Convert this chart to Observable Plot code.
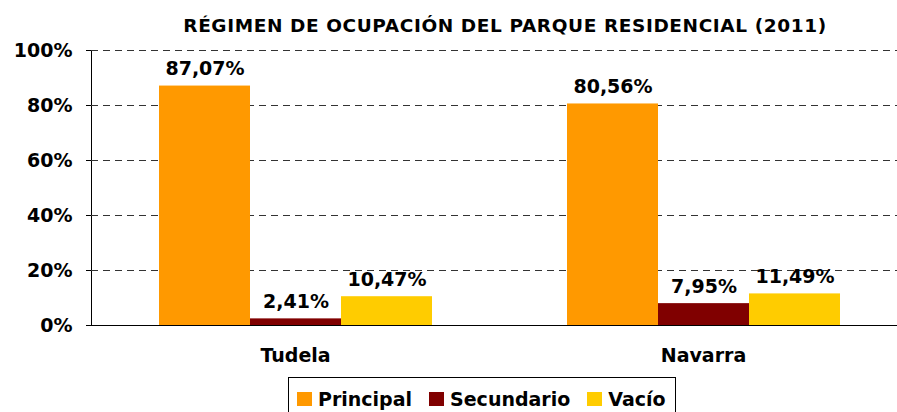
<!DOCTYPE html>
<html>
<head>
<meta charset="utf-8">
<script src="https://cdn.jsdelivr.net/npm/d3@7"></script>
<script src="https://cdn.jsdelivr.net/npm/@observablehq/plot@0.6"></script>
<style>
  html, body { margin: 0; padding: 0; background: #fff; overflow: hidden; width: 897px; height: 412px; }
  body { position: relative; font-family: "DejaVu Sans", sans-serif; font-weight: bold; color: #000; }
  #title { position: absolute; left: 0; top: 15px; width: 1010px; text-align: center; font-size: 18.5px; letter-spacing: 0.6px; white-space: nowrap; }
  #chart { position: absolute; left: 0; top: 40px; }
  #legend { position: absolute; left: 288px; top: 377px; width: 388px; height: 44px; box-sizing: border-box; border: 1px solid #000; display: flex; align-items: flex-start; padding: 10px 0 0 8px; font-size: 19px; }
  .item { display: flex; align-items: center; margin-right: 17px; }
  .sw { width: 15px; height: 14px; margin-right: 6px; }
</style>
</head>
<body>
<div id="title"></div>
<div id="chart"></div>
<div id="legend"></div>
<script>
const titleText = "RÉGIMEN DE OCUPACIÓN DEL PARQUE RESIDENCIAL (2011)";
const categories = ["Tudela", "Navarra"];
const series = ["Principal", "Secundario", "Vacío"];
const principal = [87.07, 80.56];
const secundario = [2.41, 7.95];
const vacio = [10.47, 11.49];
const colors = ["#FF9900", "#800000", "#FFCC00"];
const yTicks = [0, 20, 40, 60, 80, 100];

const valuesBySeries = [principal, secundario, vacio];
const data = [];
categories.forEach((c, ci) => {
  series.forEach((s, si) => {
    data.push({cat: c, series: s, value: valuesBySeries[si][ci]});
  });
});

const fmt = v => v.toFixed(2).replace(".", ",") + "%";

document.getElementById("title").textContent = titleText;

const chart = Plot.plot({
  width: 897,
  height: 335,
  marginLeft: 91,
  marginRight: -10,
  marginTop: 10,
  marginBottom: 50,
  style: {fontFamily: "DejaVu Sans", fontWeight: "bold", fontSize: "19px", color: "#000", overflow: "visible", background: "transparent"},
  fx: {domain: categories, paddingInner: 0, paddingOuter: 0, axis: "bottom", label: null, tickSize: 0, tickPadding: 23},
  x: {domain: series, paddingInner: 0, paddingOuter: 0.74, axis: null},
  y: {domain: [0, 100], ticks: yTicks, tickFormat: d => d + "%", label: null, tickSize: 5, tickPadding: 14, line: true},
  color: {domain: series, range: colors},
  marks: [
    Plot.ruleY(yTicks.filter(d => d > 0), {stroke: "#333", strokeWidth: 1, strokeDasharray: "7,5"}),
    Plot.barY(data, {fx: "cat", x: "series", y: "value", fill: "series"}),
    Plot.ruleY([0], {stroke: "#000", strokeWidth: 1}),
    Plot.text(data, {fx: "cat", x: "series", y: "value", text: d => fmt(d.value), lineAnchor: "bottom", dy: -11, fill: "#000"})
  ]
});
document.getElementById("chart").appendChild(chart);

const legend = document.getElementById("legend");
series.forEach((s, i) => {
  const item = document.createElement("div");
  item.className = "item";
  const sw = document.createElement("div");
  sw.className = "sw";
  sw.style.background = colors[i];
  const lab = document.createElement("span");
  lab.textContent = s;
  item.appendChild(sw);
  item.appendChild(lab);
  legend.appendChild(item);
});
</script>
</body>
</html>
